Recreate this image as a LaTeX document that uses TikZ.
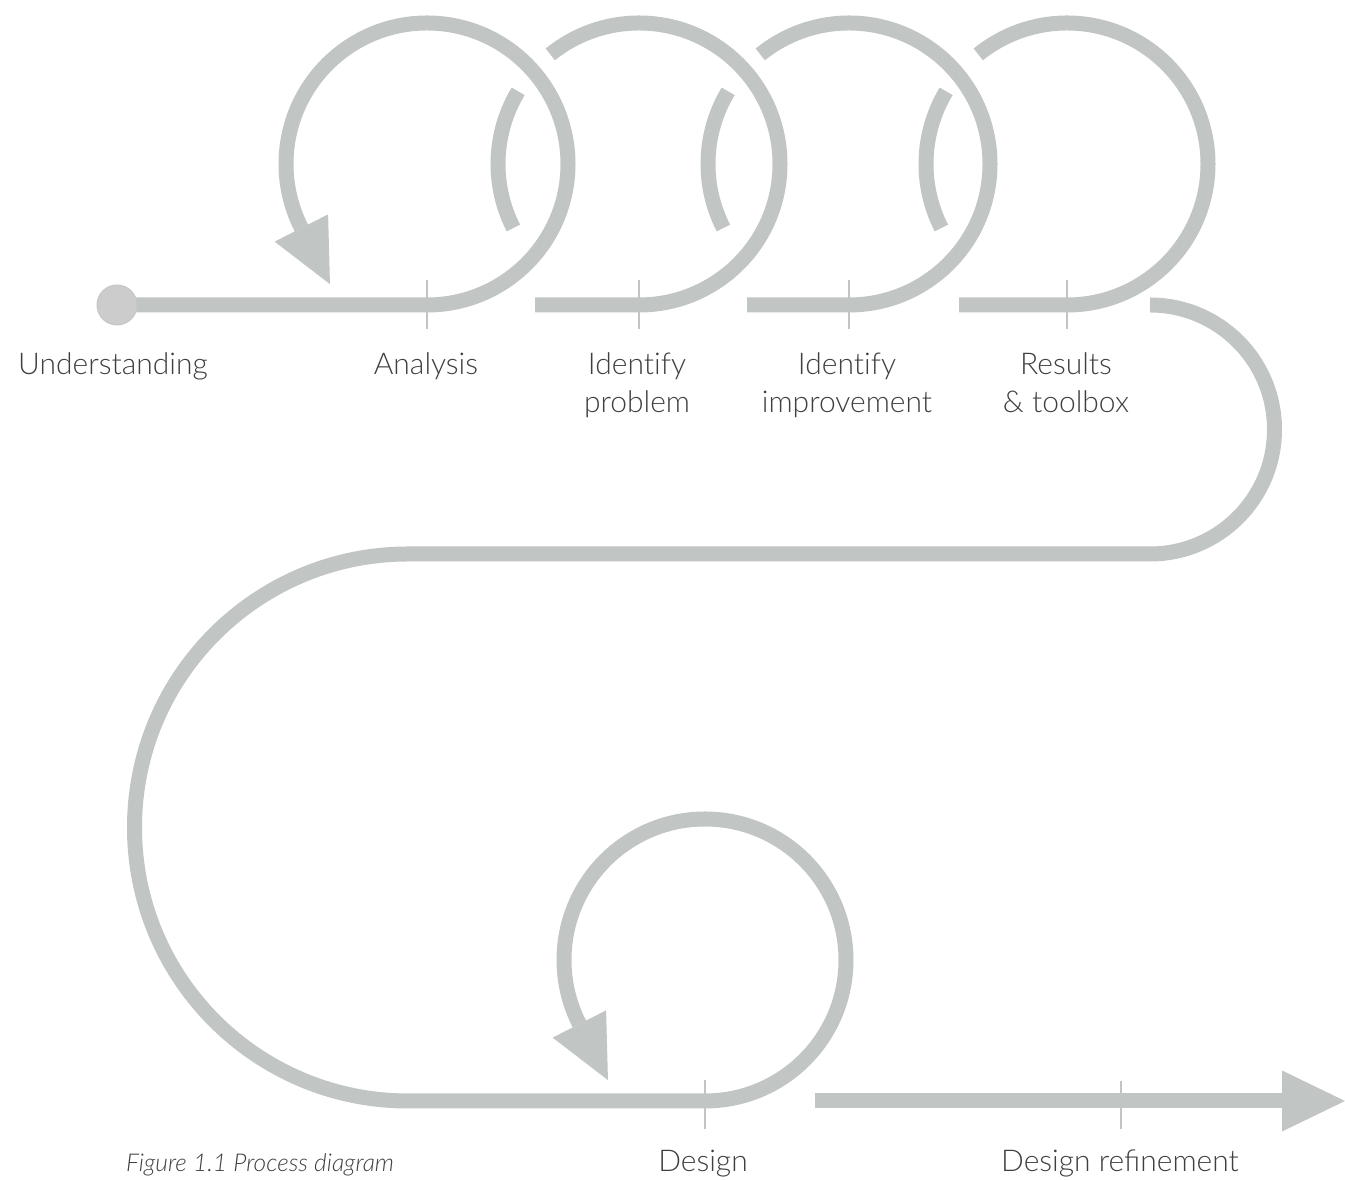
\documentclass[tikz,border=0pt]{standalone}
\usepackage{fontspec}
\IfFontExistsTF{Lato Light}
  {\setmainfont{Lato Light}[ItalicFont={Lato Light Italic}]}
  {\setmainfont{Carlito}}
\usetikzlibrary{calc}
\definecolor{trackgray}{HTML}{C1C5C3}
\definecolor{dotgray}{HTML}{CCCCCC}
\definecolor{dotrim}{HTML}{C6C6C6}
\definecolor{labelgray}{HTML}{3F3F3F}
\newcommand{\identword}{Ident\kern0pt ify}
\begin{document}
\begin{tikzpicture}[x=1pt,y=1pt,
  trackline/.style={draw=trackgray, line width=15pt},
  tickmark/.style={draw=trackgray, line width=2.5pt},
  headfill/.style={fill=trackgray},
  lbl/.style={text=labelgray, font=\fontsize{30}{38}\selectfont, align=center, inner sep=0pt, anchor=base},
  captiontext/.style={text=labelgray, font=\fontsize{24.5}{28}\selectfont\itshape, inner sep=0pt, anchor=base}
]
\useasboundingbox (0,0) rectangle (1345,1180);

% loop centres and path key points
\coordinate (c1) at (427,1016);
\coordinate (c2) at (639,1016);
\coordinate (c3) at (849,1016);
\coordinate (c4) at (1067,1016);
\coordinate (c5) at (705,220);
\coordinate (start) at (117,875);
\coordinate (s2) at (535,875);
\coordinate (s3) at (747,875);
\coordinate (s4) at (959,875);
\coordinate (r0) at (1150,875);
\coordinate (l0) at (408,626);
\coordinate (l1) at (408,79);
\coordinate (f0) at (815,79);
\coordinate (fbase) at (1282,79);
\coordinate (ftip) at (1345,79);
\coordinate (t6) at (1121,79);

% first loop with arrow head
\draw[trackline] (start) -- (c1 |- start) arc[start angle=-90, end angle=207, radius=141];
\fill[headfill] ($(c1)+(207:171)$) -- ($(c1)+(207:111)$) -- ($(c1)+(207:141)+(297:63)$) -- cycle;

% the three following loops, each broken where it passes under the previous ring
\foreach \s/\c in {s2/c2, s3/c3, s4/c4}{
  \draw[trackline] (\s) -- (\c |- \s) arc[start angle=-90, end angle=129, radius=141];
  \draw[trackline] ($(\c)+(149:141)$) arc[start angle=149, end angle=207, radius=141];
}

% long S-bend down to the design loop
\draw[trackline] (r0) arc[start angle=90, end angle=-90, radius=124.5]
  -- (l0) arc[start angle=90, end angle=270, radius=273.5]
  -- (c5 |- l1) arc[start angle=-90, end angle=207, radius=141];
\fill[headfill] ($(c5)+(207:171)$) -- ($(c5)+(207:111)$) -- ($(c5)+(207:141)+(297:63)$) -- cycle;

% final arrow
\draw[trackline] (f0) -- (fbase);
\fill[headfill] ($(fbase)+(0,30.5)$) -- (ftip) -- ($(fbase)+(0,-30.5)$) -- cycle;

% starting dot
\node[circle, fill=dotgray, draw=dotrim, line width=1pt, minimum size=40pt, inner sep=0pt] (dot) at (start) {};

% tick marks
\foreach \c in {c1,c2,c3,c4}{
  \draw[tickmark] ($(\c |- start)+(0,24.5)$) -- ++(0,-49);
}
\draw[tickmark] ($(c5 |- l1)+(0,21)$) -- ++(0,-49);
\draw[tickmark] ($(t6)+(0,20)$) -- ++(0,-48);

% labels (two-line labels sit on the baseline of their second line)
\node[lbl] (understanding) at (113,805) {Understanding};
\node[lbl] (analysis) at (426,805) {Analysis};
\node[lbl] (problem) at (637,767) {\identword\\problem};
\node[lbl] (improvement) at (847,767) {\identword\\improvement};
\node[lbl] (results) at (1066,767) {Results\\\& toolbox};
\node[lbl] (design) at (703,8) {Design};
\node[lbl] (refinement) at (1120,8) {Design refinement};
\node[captiontext] (caption) at (260,8) {Figure 1.1 Process diagram};
\end{tikzpicture}
\end{document}
